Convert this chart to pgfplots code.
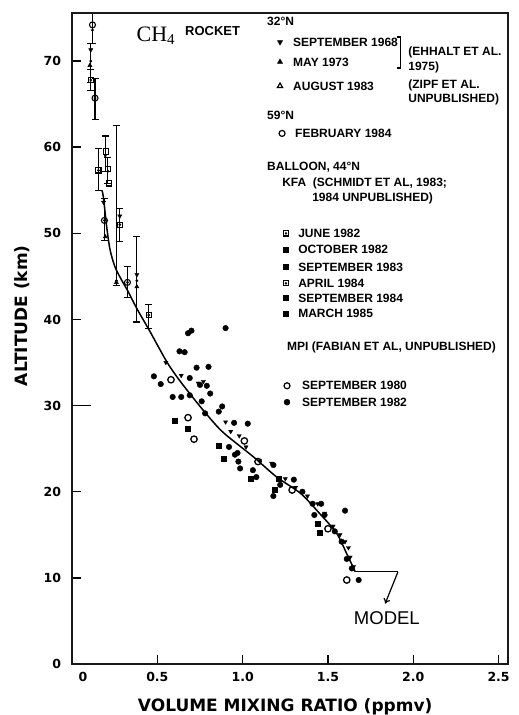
\documentclass[border=0pt]{standalone}
\usepackage{pgfplots}
\pgfplotsset{compat=1.18}
\usepackage{fontspec}
\setmainfont{Liberation Sans}
\newfontfamily\labfont{DejaVu Sans}
\newfontfamily\legfont{Liberation Sans}
\newfontfamily\serfont{Liberation Serif}
\usetikzlibrary{arrows.meta}
\tikzset{leg/.style={anchor=west, inner sep=0pt, font=\legfont\bfseries\fontsize{12}{13}\selectfont}}
\definecolor{framec}{RGB}{25,25,25}
\begin{document}
\begin{tikzpicture}[x=1pt,y=1pt]
\useasboundingbox (-72,-51) rectangle (447,664);
\begin{axis}[
  at={(0,0)}, anchor=south west,
  scale only axis, width=436pt, height=651pt,
  xmin=0, xmax=2.555, ymin=0, ymax=75.58,
  axis line style={line width=1.6pt, framec},
  tick align=inside, xtick pos=bottom, ytick pos=left,
  major tick length=9pt,
  tick style={line width=1.4pt, black},
  xtick={0,0.5,1,1.5,2,2.5},
  xticklabels={\hspace*{22pt}0,0.5,1.0,1.5,2.0,2.5},
  ytick={0,10,20,30,40,50,60,70},
  yticklabels={0,10,20,30,40,50,60,70},
  ticklabel style={font=\labfont\bfseries\fontsize{12.5}{14}\selectfont},
  xticklabel style={yshift=-5pt},
  yticklabel style={xshift=-7.5pt},
  xlabel={VOLUME MIXING RATIO (ppmv)},
  ylabel={ALTITUDE (km)},
  label style={font=\labfont\bfseries\fontsize{17}{19}\selectfont},
  xlabel style={at={(axis description cs:0.489,-0.066)}, anchor=center},
  ylabel style={at={(axis description cs:-0.115,0.535)}, anchor=center},
  clip=false,
]
% model curve
\addplot[black, line width=1.5pt, smooth, mark=none] coordinates {
 (0.175,55) (0.184,54.2) (0.203,50.8) (0.223,48.1) (0.252,46.1) (0.29,44.6)
 (0.33,43.2) (0.379,41.3) (0.457,38.6) (0.555,35.1) (0.62,33.2) (0.69,31.4)
 (0.78,29.2) (0.885,26.9) (1.06,24.1) (1.2,21.7) (1.34,19.8) (1.45,17.5)
 (1.55,15.2) (1.61,12.8) (1.66,10.7)};
% rocket error bars
\addplot[black, only marks, mark=*, mark size=1.2pt,
  error bars/.cd, y dir=both, y explicit,
  error bar style={line width=1.1pt, black},
  error mark options={rotate=90, mark size=3.5pt, line width=1.1pt, black}]
 coordinates {
 (0.12,73.6) += (0,1.9) -= (0,1.6)
 (0.11,70.0) += (0,2) -= (0,2.5)
 (0.11,67.8) +- (0,1.2)
 (0.135,65.7) += (0,2.3) -= (0,2.5)
 (0.155,57.3) += (0,2.5) -= (0,2.3)
 (0.195,59.0) += (0,2.3) -= (0,1.8)
 (0.21,57.2) += (0,1.6) -= (0,1.4)
 (0.19,51.5) += (0,2.5) -= (0,2.3)
 (0.26,44.5) += (0,18) -= (0,0.6)
 (0.28,51.0) +- (0,1.9)
 (0.325,44.3) +- (0,1.8)
 (0.38,44.5) += (0,5.1) -= (0,4.8)
 (0.45,40.5) += (0,1.2) -= (0,1.5)
 };
% rocket symbols
\addplot[black, only marks, mark=o, mark size=3pt, line width=1.1pt, mark options={fill=white}]
 coordinates {(0.12,74.2) (0.135,65.7) (0.19,51.5) (0.325,44.3)};
\addplot[black, only marks, mark=square, mark size=2.6pt, line width=1.1pt, mark options={fill=white}]
 coordinates {(0.11,67.8) (0.155,57.3) (0.20,59.5) (0.21,57.5) (0.45,40.5) (0.28,51.0) (0.215,55.8)};
\addplot[black, only marks, mark=triangle*, mark size=2.4pt, mark options={rotate=180}]
 coordinates {(0.11,71.3) (0.185,53.6) (0.38,45.2) (0.28,52.0)
 (0.55,35.0) (0.64,33.5) (0.74,32.6) (0.77,32.8) (0.90,28.1) (0.93,27.0) (0.98,26.5)
 (1.02,25.2) (1.10,23.6) (1.17,23.3) (1.25,21.5) (1.31,20.5) (1.38,19.5) (1.44,18.6)
 (1.48,17.5) (1.53,16.0) (1.57,15.0) (1.60,14.2) (1.62,13.5) (1.63,12.4) (1.65,11.3)};
\addplot[black, only marks, mark=triangle*, mark size=2.4pt]
 coordinates {(0.105,69.5) (0.38,43.8) (0.195,49.6) (0.26,44.3)};
% balloon / MPI filled circles
\addplot[black, only marks, mark=*, mark size=2.8pt] coordinates {
 (0.90,39.0) (0.68,38.4) (0.70,38.7) (0.63,36.3) (0.66,36.2) (0.73,34.4) (0.80,34.5)
 (0.48,33.4) (0.52,32.5) (0.59,31.0) (0.64,31.0) (0.76,30.5) (0.81,31.4) (0.88,29.9)
 (0.86,29.3) (0.95,28.0) (1.03,27.9) (0.92,25.2) (0.955,24.3) (0.975,23.5)
 (0.985,22.7) (1.06,22.5) (1.08,21.7) (1.18,23.1) (1.22,20.8) (1.18,19.5) (1.35,20.0)
 (1.41,18.6) (1.46,18.6) (1.42,17.3) (1.48,17.3) (1.54,15.4) (1.60,17.8) (1.58,14.2)
 (1.61,12.2) (1.64,11.1) (1.68,9.75) (0.69,33.2) (0.75,32.4) (0.79,32.3) (0.78,29.1)
 (0.69,31.2) (0.97,24.5) (1.30,21.4)};
\addplot[black, only marks, mark=square*, mark size=2.5pt] coordinates {
 (0.89,23.8) (0.60,28.2) (1.45,15.2) (1.19,20.2) (0.86,25.3) (1.05,21.5) (1.21,21.5)
 (1.44,16.3) (0.68,27.3)};
% open circles MPI 1980
\addplot[black, only marks, mark=o, mark size=3.2pt, line width=1.3pt, mark options={fill=white}] coordinates {
 (0.58,33.0) (0.68,28.6) (0.715,26.1) (1.01,25.9) (1.09,23.5) (1.29,20.2) (1.50,15.7) (1.61,9.75)};
% legend symbols
\addplot[black, only marks, mark=triangle*, mark size=3pt, mark options={rotate=180}] coordinates {(1.219,72.2)};
\addplot[black, only marks, mark=triangle*, mark size=3pt] coordinates {(1.219,69.9)};
\addplot[black, only marks, mark=triangle, mark size=3pt, line width=1.2pt] coordinates {(1.219,67.1)};
\addplot[black, only marks, mark=o, mark size=3pt, line width=1.2pt] coordinates {(1.231,61.6)};
\addplot[black, only marks, mark=square, mark size=2.6pt, line width=1.2pt] coordinates {(1.254,50.0) (1.254,44.2)};
\addplot[black, only marks, mark=*, mark size=1pt] coordinates {(1.254,50.0) (1.254,44.2)};
\addplot[black, only marks, mark=square*, mark size=2.6pt] coordinates {(1.254,48.1) (1.254,46.1) (1.254,42.5) (1.254,40.7)};
\addplot[black, only marks, mark=o, mark size=3pt, line width=1.2pt] coordinates {(1.260,32.3)};
\addplot[black, only marks, mark=*, mark size=3pt] coordinates {(1.260,30.4)};
% frame and the longer tick at 30 km
\draw[framec, line width=2pt] (rel axis cs:0,0) rectangle (rel axis cs:1,1);
\draw[black, line width=1.4pt] (axis cs:0,30) -- ++(19pt,0);
% texts
\node[inner sep=0pt, font=\serfont\fontsize{22}{24}\selectfont] at (axis cs:0.49,72.9) {CH\raisebox{-3pt}{\fontsize{15}{16}\selectfont 4}};
\node[leg, font=\legfont\bfseries\fontsize{13}{14}\selectfont] at (axis cs:0.662,73.5) {ROCKET};
\node[leg] at (axis cs:1.143,74.6) {32°N};
\node[leg] at (axis cs:1.295,72.2) {SEPTEMBER 1968};
\node[leg] at (axis cs:1.295,69.9) {MAY 1973};
\node[leg] at (axis cs:1.295,67.1) {AUGUST 1983};
\draw[line width=1.5pt] (axis cs:1.905,72.8) -- (axis cs:1.925,72.8) -- (axis cs:1.925,69.2) -- (axis cs:1.905,69.2);
\node[leg] at (axis cs:1.970,71.0) {(EHHALT ET AL.};
\node[leg] at (axis cs:1.970,69.3) {1975)};
\node[leg] at (axis cs:1.970,67.2) {(ZIPF ET AL.};
\node[leg] at (axis cs:1.970,65.5) {UNPUBLISHED)};
\node[leg] at (axis cs:1.143,63.7) {59°N};
\node[leg] at (axis cs:1.307,61.6) {FEBRUARY 1984};
\node[leg] at (axis cs:1.143,57.7) {BALLOON, 44°N};
\node[leg] at (axis cs:1.231,55.8) {KFA\ \ (SCHMIDT ET AL, 1983;};
\node[leg] at (axis cs:1.407,54.0) {1984 UNPUBLISHED)};
\node[leg] at (axis cs:1.325,50.0) {JUNE 1982};
\node[leg] at (axis cs:1.325,48.1) {OCTOBER 1982};
\node[leg] at (axis cs:1.325,46.1) {SEPTEMBER 1983};
\node[leg] at (axis cs:1.325,44.2) {APRIL 1984};
\node[leg] at (axis cs:1.325,42.5) {SEPTEMBER 1984};
\node[leg] at (axis cs:1.325,40.7) {MARCH 1985};
\node[leg] at (axis cs:1.260,36.7) {MPI (FABIAN ET AL, UNPUBLISHED)};
\node[leg] at (axis cs:1.348,32.3) {SEPTEMBER 1980};
\node[leg] at (axis cs:1.348,30.4) {SEPTEMBER 1982};
\draw[line width=1pt] (axis cs:1.66,10.7) -- (axis cs:1.91,10.7);
\draw[line width=1.2pt, -{To[length=5pt,width=7pt]}] (axis cs:1.91,10.7) -- (axis cs:1.835,7.0);
\node[inner sep=0pt, font=\legfont\fontsize{18.5}{20}\selectfont] at (axis cs:1.845,5.3) {MODEL};
\end{axis}
\end{tikzpicture}
\end{document}
